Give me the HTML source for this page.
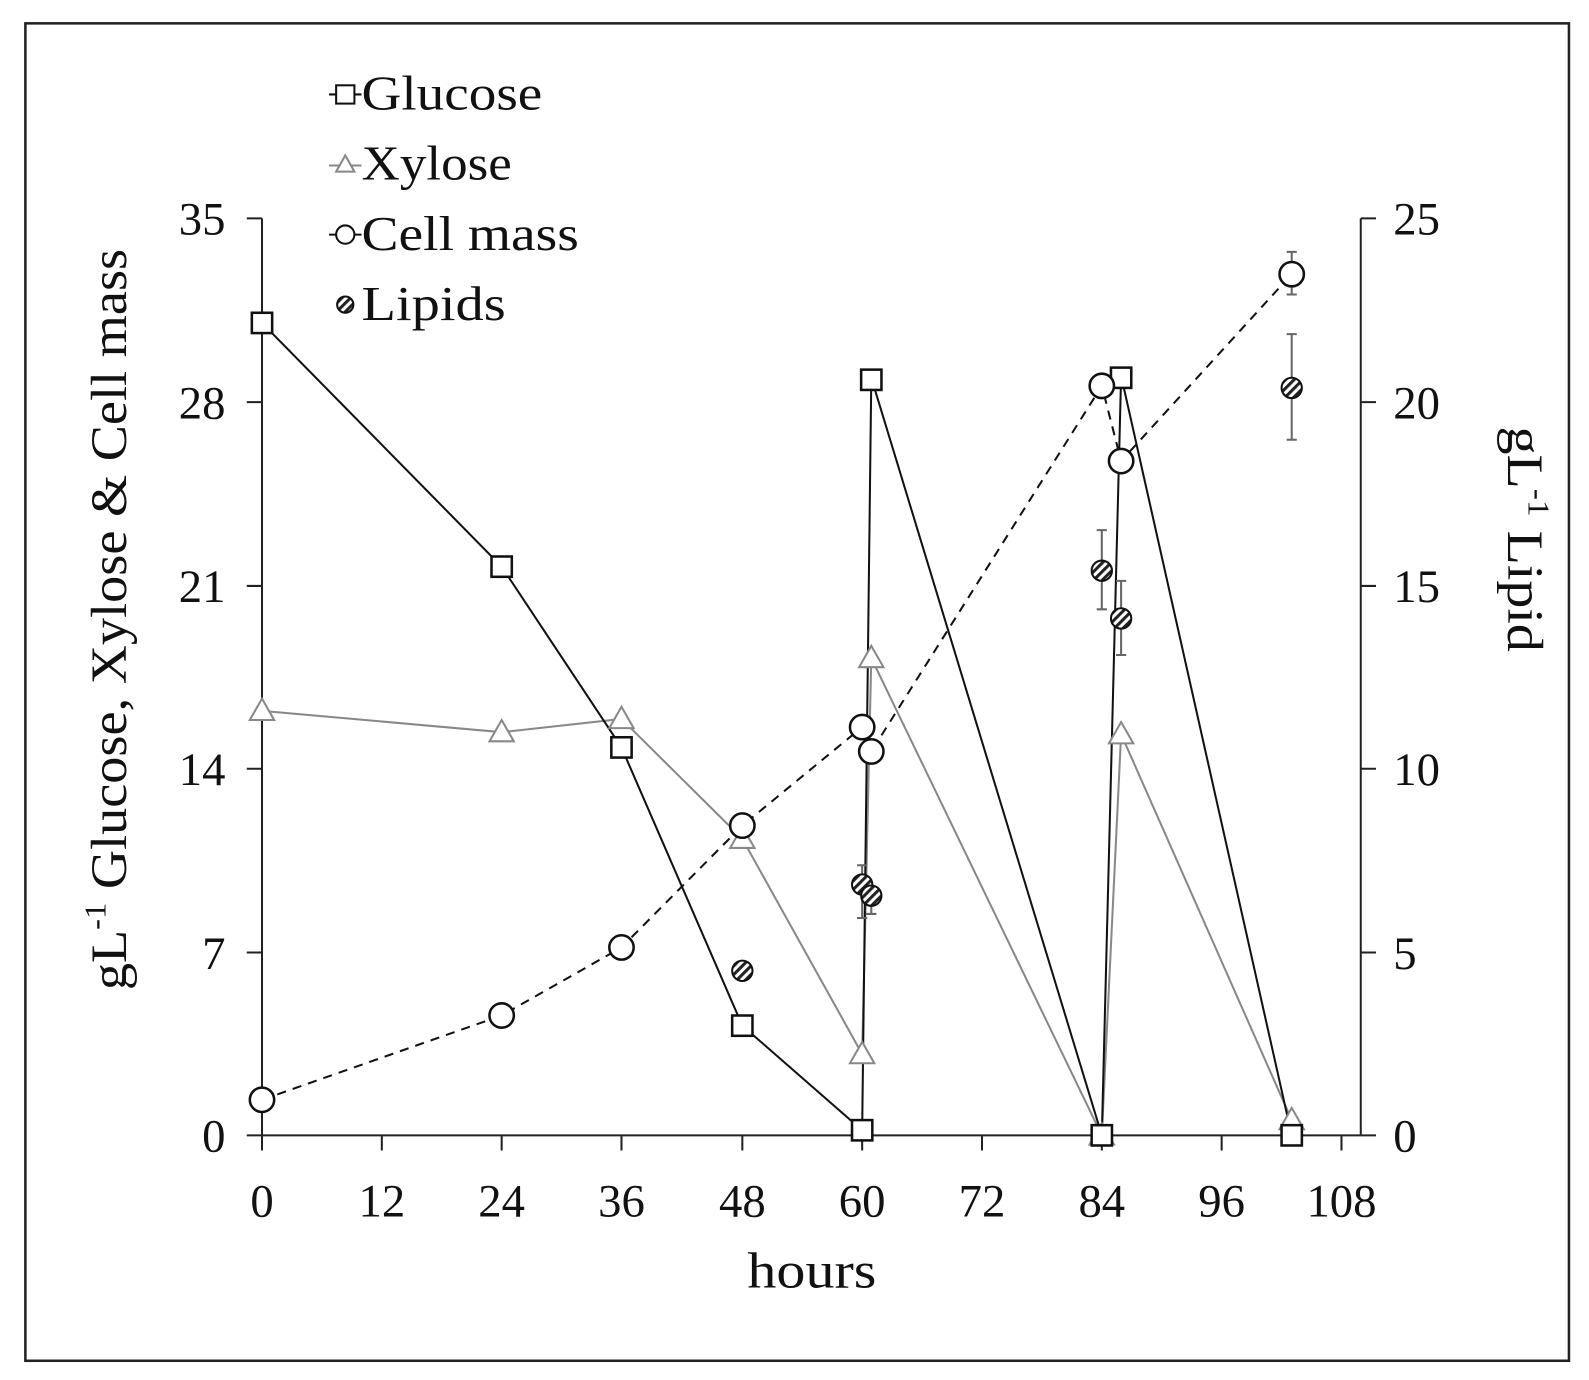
<!DOCTYPE html>
<html><head><style>body{margin:0;background:#fff}text{font-family:"Liberation Serif",serif;fill:#111}</style></head>
<body>
<svg width="1589" height="1375" viewBox="0 0 1589 1375" xmlns="http://www.w3.org/2000/svg">
<defs>
<pattern id="h" width="6" height="6" patternUnits="userSpaceOnUse" patternTransform="rotate(45)">
<rect width="6" height="6" fill="#fff"/><rect width="3" height="6" fill="#222"/></pattern>
</defs>
<g transform="scale(1.0155)">
<rect x="25" y="23" width="1520" height="1317" fill="none" stroke="#222" stroke-width="2.5"/>
<g stroke="#222" stroke-width="2" fill="none">
<line x1="258" y1="215" x2="258" y2="1118"/>
<line x1="258" y1="1118" x2="1340" y2="1118"/>
<line x1="1340" y1="215" x2="1340" y2="1118"/>
<path d="M243 215H258M243 396H258M243 577H258M243 757H258M243 938H258M243 1118H258"/>
<path d="M1340 215H1355M1340 396H1355M1340 577H1355M1340 757H1355M1340 938H1355M1340 1118H1355"/>
<path d="M258 1118V1133M376 1118V1133M494 1118V1133M612 1118V1133M731 1118V1133M849 1118V1133M967 1118V1133M1085 1118V1133M1203 1118V1133M1321 1118V1133"/>
</g>
<g font-size="46" text-anchor="end">
<text x="222" y="231">35</text><text x="222" y="412">28</text><text x="222" y="593">21</text><text x="222" y="773">14</text><text x="222" y="954">7</text><text x="222" y="1134">0</text>
</g>
<g font-size="46" text-anchor="start">
<text x="1372" y="231">25</text><text x="1372" y="412">20</text><text x="1372" y="593">15</text><text x="1372" y="773">10</text><text x="1372" y="954">5</text><text x="1372" y="1134">0</text>
</g>
<g font-size="46" text-anchor="middle">
<text x="258" y="1198">0</text><text x="376" y="1198">12</text><text x="494" y="1198">24</text><text x="612" y="1198">36</text><text x="731" y="1198">48</text><text x="849" y="1198">60</text><text x="967" y="1198">72</text><text x="1085" y="1198">84</text><text x="1203" y="1198">96</text><text x="1321" y="1198">108</text>
</g>
<text x="736" y="1268" font-size="50" textLength="127" lengthAdjust="spacingAndGlyphs">hours</text>
<text transform="translate(124,975) rotate(-90)" font-size="50" textLength="730" lengthAdjust="spacingAndGlyphs">gL<tspan font-size="30" dy="-20">-1</tspan><tspan dy="20">&#160;Glucose, Xylose &amp; Cell mass</tspan></text>
<text transform="translate(1485,420) rotate(90)" font-size="50" textLength="222" lengthAdjust="spacingAndGlyphs">gL<tspan font-size="30" dy="-20">-1</tspan><tspan dy="20">&#160;Lipid</tspan></text>
<polyline fill="none" stroke="#888" stroke-width="2" points="258,700 494,721 612,708 731,826 849,1038 858,648 1085,1118 1104,723 1272,1103"/>
<polyline fill="none" stroke="#111" stroke-width="2" points="258,318 494,558 612,736 731,1010 849,1113 858,372 1085,1118 1104,370 1272,1118"/>
<polyline fill="none" stroke="#111" stroke-width="2" stroke-dasharray="9,7" points="258,1083 494,1000 612,933 731,813 849,716 858,740 1085,380 1104,454 1272,270"/>
<g stroke="#666" stroke-width="2">
<path d="M849 852V904M844 852H854M844 904H854"/>
<path d="M858 868V900M853 900H863"/>
<path d="M1085 522V600M1080 522H1090M1080 600H1090"/>
<path d="M1104 572V645M1099 572H1109M1099 645H1109"/>
<path d="M1272 329V433M1267 329H1277M1267 433H1277"/>
<path d="M1272 248V290M1267 248H1277M1267 290H1277"/>
</g>
<g fill="#fff" stroke="#888" stroke-width="2">
<path d="M258,688 l12,21 h-24z"/><path d="M494,709 l12,21 h-24z"/><path d="M612,696 l12,21 h-24z"/><path d="M731,814 l12,21 h-24z"/><path d="M849,1026 l12,21 h-24z"/><path d="M858,636 l12,21 h-24z"/><path d="M1085,1106 l12,21 h-24z"/><path d="M1104,711 l12,21 h-24z"/><path d="M1272,1091 l12,21 h-24z"/>
</g>
<g fill="#fff" stroke="#111" stroke-width="2.5">
<rect x="248" y="308" width="20" height="20"/>
<rect x="484" y="548" width="20" height="20"/><rect x="602" y="726" width="20" height="20"/><rect x="721" y="1000" width="20" height="20"/><rect x="839" y="1103" width="20" height="20"/><rect x="848" y="364" width="20" height="20"/><rect x="1075" y="1108" width="20" height="20"/><rect x="1094" y="362" width="20" height="20"/><rect x="1262" y="1108" width="20" height="20"/>
</g>
<g fill="#fff" stroke="#111" stroke-width="2.5">
<circle cx="258" cy="1083" r="12"/><circle cx="494" cy="1000" r="12"/><circle cx="612" cy="933" r="12"/><circle cx="731" cy="813" r="12"/><circle cx="849" cy="716" r="12"/><circle cx="858" cy="740" r="12"/><circle cx="1085" cy="380" r="12"/><circle cx="1104" cy="454" r="12"/><circle cx="1272" cy="270" r="12"/>
</g>
<g fill="url(#h)" stroke="#111" stroke-width="2">
<circle cx="731" cy="956" r="10"/><circle cx="849" cy="871" r="10"/><circle cx="858" cy="882" r="10"/><circle cx="1085" cy="562" r="10"/><circle cx="1104" cy="609" r="10"/><circle cx="1272" cy="382" r="10"/>
</g>
<g stroke-width="2">
<line x1="324" y1="93" x2="356" y2="93" stroke="#111"/><rect x="331" y="84" width="18" height="18" fill="#fff" stroke="#111"/>
<line x1="324" y1="163" x2="356" y2="163" stroke="#888"/><path d="M340,153 l9,16 h-18z" fill="#fff" stroke="#888"/>
<line x1="324" y1="231" x2="356" y2="231" stroke="#111"/><circle cx="340" cy="231" r="9" fill="#fff" stroke="#111"/>
<circle cx="340" cy="300" r="8" fill="url(#h)" stroke="#111"/>
</g>
<g font-size="48">
<text x="356" y="108" textLength="178" lengthAdjust="spacingAndGlyphs">Glucose</text>
<text x="356" y="177" textLength="148" lengthAdjust="spacingAndGlyphs">Xylose</text>
<text x="356" y="246" textLength="214" lengthAdjust="spacingAndGlyphs">Cell mass</text>
<text x="356" y="315" textLength="142" lengthAdjust="spacingAndGlyphs">Lipids</text>
</g>
</g>
</svg>
</body></html>
